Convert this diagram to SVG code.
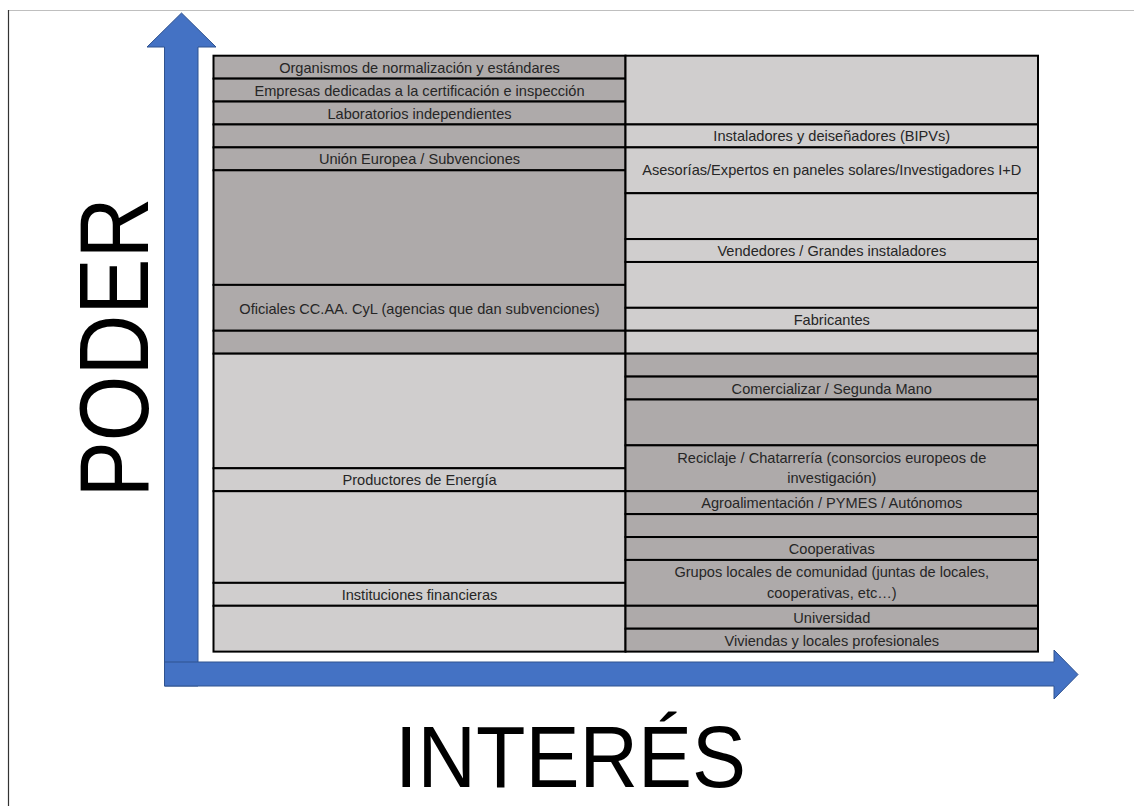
<svg xmlns="http://www.w3.org/2000/svg" width="1134" height="806" viewBox="0 0 1134 806">
<style>
.dk{fill:#AEAAAA;stroke:#000;stroke-width:2}
.lt{fill:#D0CECE;stroke:#000;stroke-width:2}
.t{font-family:"Liberation Sans",Arial,sans-serif;font-size:14.6px;fill:#262626;text-anchor:middle}
.big{font-family:"Liberation Sans",Arial,sans-serif;fill:#000;text-anchor:middle}
.arr{fill:#4472C4;stroke:#2F528F;stroke-width:1}
</style>
<rect width="1134" height="806" fill="#fff"/>
<g id="frame">
<line x1="8" y1="10.5" x2="1134" y2="10.5" stroke="#BFBFBF" stroke-width="1.2"/>
<line x1="8.5" y1="10" x2="8.5" y2="806" stroke="#333" stroke-width="1.2"/>
</g>
<g id="connectors">
<polygon id="axis-y" class="arr" points="164.5,686 164.5,47 147,47 181.5,13 216,47 198,47 198,686"/>
<polygon id="axis-x" class="arr" points="164.5,662 1054,662 1054,650 1078,674.5 1054,699 1054,686 164.5,686"/>
</g>
<g id="label-poder"><text class="big" font-size="98" transform="translate(148,347.5) rotate(-90)" textLength="300" lengthAdjust="spacingAndGlyphs">PODER</text></g>
<g id="label-interes"><text class="big" font-size="88" x="570.5" y="787" textLength="351" lengthAdjust="spacingAndGlyphs">INTERÉS</text></g>

<g id="L0"><rect class="dk" x="213.5" y="55.7" width="412" height="22.92"/><text class="t" x="419.5" y="72.7">Organismos de normalización y estándares</text></g>
<g id="L1"><rect class="dk" x="213.5" y="78.62" width="412" height="22.92"/><text class="t" x="419.5" y="95.6">Empresas dedicadas a la certificación e inspección</text></g>
<g id="L2"><rect class="dk" x="213.5" y="101.54" width="412" height="22.92"/><text class="t" x="419.5" y="118.5">Laboratorios independientes</text></g>
<g id="L3"><rect class="dk" x="213.5" y="124.46" width="412" height="22.92"/></g>
<g id="L4"><rect class="dk" x="213.5" y="147.38" width="412" height="22.92"/><text class="t" x="419.5" y="164.3">Unión Europea / Subvenciones</text></g>
<g id="L5"><rect class="dk" x="213.5" y="170.3" width="412" height="114.6"/></g>
<g id="L6"><rect class="dk" x="213.5" y="284.9" width="412" height="45.84"/><text class="t" x="419.5" y="313.5">Oficiales CC.AA. CyL (agencias que dan subvenciones)</text></g>
<g id="L7"><rect class="dk" x="213.5" y="330.74" width="412" height="22.92"/></g>
<g id="L8"><rect class="lt" x="213.5" y="353.66" width="412" height="114.6"/></g>
<g id="L9"><rect class="lt" x="213.5" y="468.26" width="412" height="22.92"/><text class="t" x="419.5" y="485.2">Productores de Energía</text></g>
<g id="L10"><rect class="lt" x="213.5" y="491.18" width="412" height="91.68"/></g>
<g id="L11"><rect class="lt" x="213.5" y="582.86" width="412" height="22.92"/><text class="t" x="419.5" y="599.8">Instituciones financieras</text></g>
<g id="L12"><rect class="lt" x="213.5" y="605.78" width="412" height="45.84"/></g>

<g id="R0"><rect class="lt" x="625.5" y="55.7" width="412.5" height="68.76"/></g>
<g id="R1"><rect class="lt" x="625.5" y="124.46" width="412.5" height="22.92"/><text class="t" x="831.8" y="141.4">Instaladores y deiseñadores (BIPVs)</text></g>
<g id="R2"><rect class="lt" x="625.5" y="147.38" width="412.5" height="45.84"/><text class="t" x="831.8" y="175.3">Asesorías/Expertos en paneles solares/Investigadores I+D</text></g>
<g id="R3"><rect class="lt" x="625.5" y="193.22" width="412.5" height="45.84"/></g>
<g id="R4"><rect class="lt" x="625.5" y="239.06" width="412.5" height="22.92"/><text class="t" x="831.8" y="256">Vendedores / Grandes instaladores</text></g>
<g id="R5"><rect class="lt" x="625.5" y="261.98" width="412.5" height="45.84"/></g>
<g id="R6"><rect class="lt" x="625.5" y="307.82" width="412.5" height="22.92"/><text class="t" x="831.8" y="324.6">Fabricantes</text></g>
<g id="R7"><rect class="lt" x="625.5" y="330.74" width="412.5" height="22.92"/></g>
<g id="R8"><rect class="dk" x="625.5" y="353.66" width="412.5" height="22.92"/></g>
<g id="R9"><rect class="dk" x="625.5" y="376.58" width="412.5" height="22.92"/><text class="t" x="831.8" y="393.5">Comercializar / Segunda Mano</text></g>
<g id="R10"><rect class="dk" x="625.5" y="399.5" width="412.5" height="45.84"/></g>
<g id="R11"><rect class="dk" x="625.5" y="445.34" width="412.5" height="45.84"/><text class="t" x="831.8" y="462.8">Reciclaje / Chatarrería (consorcios europeos de</text><text class="t" x="831.8" y="483.3">investigación)</text></g>
<g id="R12"><rect class="dk" x="625.5" y="491.18" width="412.5" height="22.92"/><text class="t" x="831.8" y="508.1">Agroalimentación / PYMES / Autónomos</text></g>
<g id="R13"><rect class="dk" x="625.5" y="514.1" width="412.5" height="22.92"/></g>
<g id="R14"><rect class="dk" x="625.5" y="537.02" width="412.5" height="22.92"/><text class="t" x="831.8" y="554">Cooperativas</text></g>
<g id="R15"><rect class="dk" x="625.5" y="559.94" width="412.5" height="45.84"/><text class="t" x="831.8" y="577">Grupos locales de comunidad (juntas de locales,</text><text class="t" x="831.8" y="597.8">cooperativas, etc…)</text></g>
<g id="R16"><rect class="dk" x="625.5" y="605.78" width="412.5" height="22.92"/><text class="t" x="831.8" y="622.7">Universidad</text></g>
<g id="R17"><rect class="dk" x="625.5" y="628.7" width="412.5" height="22.92"/><text class="t" x="831.8" y="645.6">Viviendas y locales profesionales</text></g>
</svg>
